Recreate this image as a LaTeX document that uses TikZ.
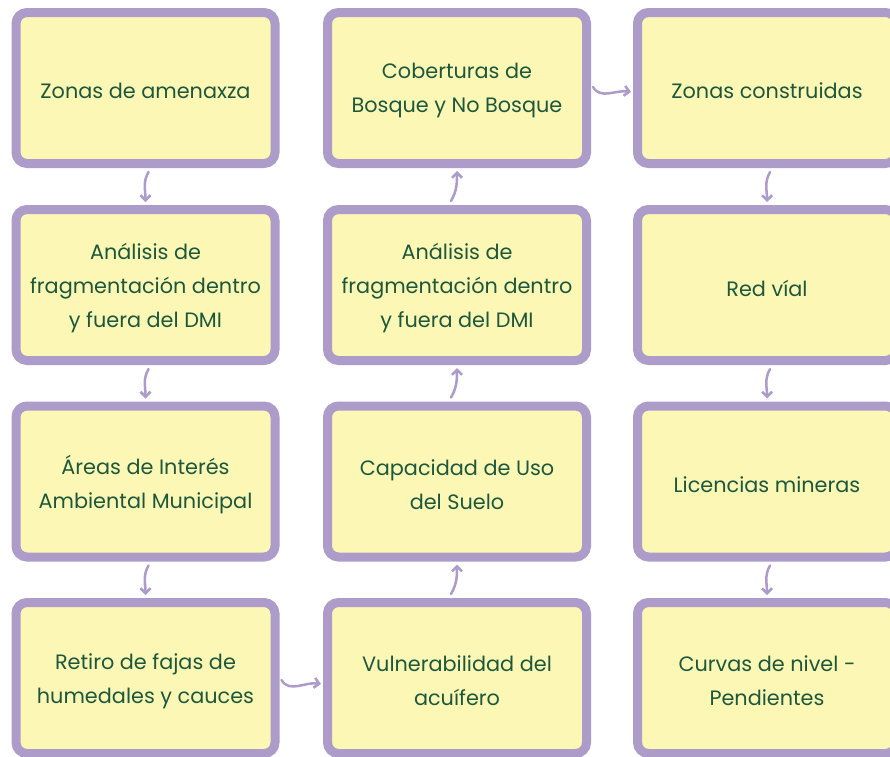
\documentclass[tikz,border=0pt]{standalone}
\usepackage{fontspec}
\setmainfont{Poppins}
\usetikzlibrary{arrows.meta}
\definecolor{boxfill}{RGB}{253,247,182}
\definecolor{boxline}{RGB}{173,155,201}
\definecolor{txt}{RGB}{30,88,60}
\tikzset{
  card/.style={draw=boxline, fill=boxfill, line width=9pt, rounded corners=11pt,
    minimum width=259pt, minimum height=151pt, align=center, text=txt,
    font=\fontsize{20.8pt}{34pt}\selectfont, inner sep=0pt},
  lbl/.style={align=center, text=txt, font=\fontsize{20.8pt}{34pt}\selectfont, inner sep=0pt},
  arr/.style={draw=boxline, line width=2.5pt, line cap=round,
    -{Straight Barb[length=5pt,width=10pt,line width=2.5pt]}}
}
\begin{document}
\begin{tikzpicture}[x=1pt,y=-1pt]
\clip (0,0) rectangle (890,756);
\fill[white] (0,0) rectangle (890,756);
% column 1
\node[card] (a1) at (145.5,88) {};
\node[card] (a2) at (145.5,285) {};
\node[card] (a3) at (145.5,481.5) {};
\node[card] (a4) at (145.5,678) {};
% column 2
\node[card] (b1) at (457,88) {};
\node[card] (b2) at (457,285) {};
\node[card] (b3) at (457,481.5) {};
\node[card] (b4) at (457,678) {};
% column 3
\node[card] (c1) at (767,88) {};
\node[card] (c2) at (767,285) {};
\node[card] (c3) at (767,481.5) {};
\node[card] (c4) at (767,678) {};
% labels
\node[lbl] (ta1) at ([yshift=-3pt]a1.center) {Zonas de amenaxza};
\node[lbl] (ta2) at ([yshift=-3pt]a2.center) {Análisis de\\fragmentación dentro\\y fuera del DMI};
\node[lbl] (ta3) at ([yshift=-3pt]a3.center) {Áreas de Interés\\Ambiental Municipal};
\node[lbl] (ta4) at ([yshift=-3pt]a4.center) {Retiro de fajas de\\humedales y cauces};
\node[lbl] (tb1) at ([yshift=-3pt]b1.center) {Coberturas de\\Bosque y No Bosque};
\node[lbl] (tb2) at ([yshift=-3pt]b2.center) {Análisis de\\fragmentación dentro\\y fuera del DMI};
\node[lbl] (tb3) at ([yshift=-3pt]b3.center) {Capacidad de Uso\\del Suelo};
\node[lbl] (tb4) at ([yshift=-3pt]b4.center) {Vulnerabilidad del\\acuífero};
\node[lbl] (tc1) at ([yshift=-3pt]c1.center) {Zonas construidas};
\node[lbl] (tc2) at ([yshift=-3pt]c2.center) {Red víal};
\node[lbl] (tc3) at ([yshift=-3pt]c3.center) {Licencias mineras};
\node[lbl] (tc4) at ([yshift=-3pt]c4.center) {Curvas de nivel -\\Pendientes};
% arrows column 1 and 3 (down)
\foreach \u/\v in {a1/a2,a2/a3,a3/a4,c1/c2,c2/c3,c3/c4}{
  \draw[arr] ([xshift=3pt,yshift=-4pt]\u.south) to[out=-120,in=90] ([xshift=0pt,yshift=3pt]\v.north);
}
% arrows column 2 (up)
\foreach \u/\v in {b4/b3,b3/b2,b2/b1}{
  \draw[arr] ([xshift=-6pt,yshift=4pt]\u.north) to[out=60,in=-90] ([xshift=0pt,yshift=-3pt]\v.south);
}
% horizontal arrows
\draw[arr] ([xshift=2pt,yshift=-2pt]a4.east) to[out=-60,in=170] ([xshift=-2pt,yshift=-6pt]b4.west);
\draw[arr] ([xshift=2pt,yshift=1pt]b1.east) to[out=-60,in=170] ([xshift=-2pt,yshift=-4pt]c1.west);
\end{tikzpicture}
\end{document}
